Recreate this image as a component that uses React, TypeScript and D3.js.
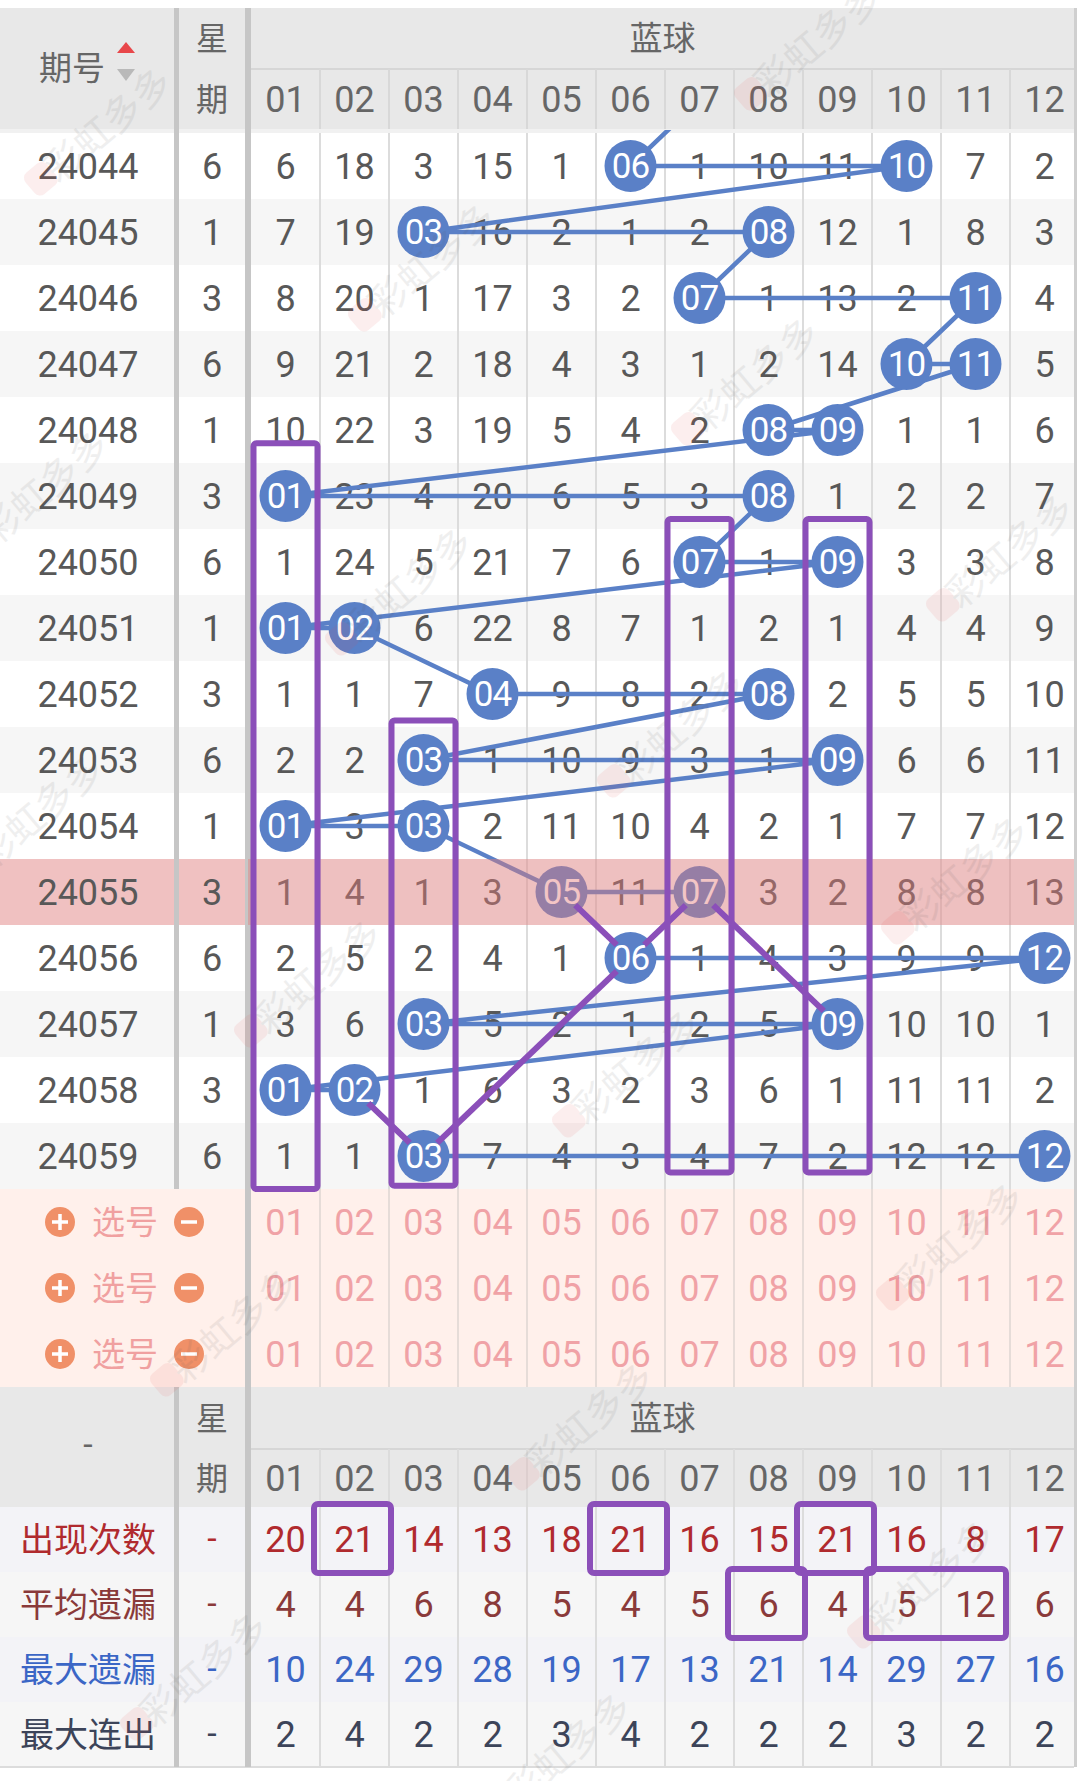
import React from 'react';
import * as d3 from 'd3';

// ---------- data ----------
const periods = ['24044','24045','24046','24047','24048','24049','24050','24051','24052','24053','24054','24055','24056','24057','24058','24059'];
const weekdays = [6,1,3,6,1,3,6,1,3,6,1,3,6,1,3,6];
const ballNumbers = ['01','02','03','04','05','06','07','08','09','10','11','12'];
const draws: [number, number][] = [
  [6,10],[3,8],[7,11],[10,11],[8,9],[1,8],[7,9],[1,2],[4,8],[3,9],[1,3],[5,7],[6,12],[3,9],[1,2],[3,12]
];
const omissions: number[][] = [
  [6,18,3,15,1,0,1,10,11,0,7,2],
  [7,19,0,16,2,1,2,0,12,1,8,3],
  [8,20,1,17,3,2,0,1,13,2,0,4],
  [9,21,2,18,4,3,1,2,14,0,0,5],
  [10,22,3,19,5,4,2,0,0,1,1,6],
  [0,23,4,20,6,5,3,0,1,2,2,7],
  [1,24,5,21,7,6,0,1,0,3,3,8],
  [0,0,6,22,8,7,1,2,1,4,4,9],
  [1,1,7,0,9,8,2,0,2,5,5,10],
  [2,2,0,1,10,9,3,1,0,6,6,11],
  [0,3,0,2,11,10,4,2,1,7,7,12],
  [1,4,1,3,0,11,0,3,2,8,8,13],
  [2,5,2,4,1,0,1,4,3,9,9,0],
  [3,6,0,5,2,1,2,5,0,10,10,1],
  [0,0,1,6,3,2,3,6,1,11,11,2],
  [1,1,0,7,4,3,4,7,2,12,12,0],
];
const previousLastBall = 7; // last ball of period 24043 (line entering from above)
const highlightPeriod = '24055';
const pickRows = [0, 1, 2];
const pickLabel = '选号';
const statLabels = ['出现次数','平均遗漏','最大遗漏','最大连出'];
const appearCount = [20,21,14,13,18,21,16,15,21,16,8,17];
const avgMiss = [4,4,6,8,5,4,5,6,4,5,12,6];
const maxMiss = [10,24,29,28,19,17,13,21,14,29,27,16];
const maxStreak = [2,4,2,2,3,4,2,2,2,3,2,2];
const statValues = [appearCount, avgMiss, maxMiss, maxStreak];
const statColors = ['#b02a2e','#8a3a3a','#3b66c6','#3c4459'];

// purple annotations (data units: ball number, period, row fraction)
const columnBoxes = [
  { ball: 1, from: '24049', to: '24059', topExt: 0.3, botExt: 0.0 },
  { ball: 3, from: '24053', to: '24059', topExt: 0.1, botExt: -0.05 },
  { ball: 7, from: '24050', to: '24059', topExt: 0.15, botExt: -0.25 },
  { ball: 9, from: '24050', to: '24059', topExt: 0.15, botExt: -0.25 },
];
const purpleLinks: [string, number, string, number][] = [
  ['24055', 5, '24056', 6],
  ['24055', 7, '24056', 6],
  ['24056', 6, '24059', 3],
  ['24055', 7, '24057', 9],
  ['24058', 2, '24059', 3],
];
const statBoxes = [
  { stat: 0, from: 2, to: 2 },
  { stat: 0, from: 6, to: 6 },
  { stat: 0, from: 9, to: 9 },
  { stat: 1, from: 8, to: 8 },
  { stat: 1, from: 10, to: 11 },
];
const watermarkSpots = [
  [108,125],[818,40],[432,261],[755,375],[45,488],[409,585],[1010,551],[681,727],
  [40,812],[965,874],[318,977],[636,1067],[960,1240],[234,1326],[590,1420],[931,1578],[204,1670],[568,1750]
];

// ---------- layout ----------
const W = 1080, H = 1781;
const headerTop = 8, headerMid = 69, headerBottom = 129;
const rowsTop = 133, rowH = 66;
const dataBottom = rowsTop + rowH * periods.length;
const pickBottom = dataBottom + rowH * pickRows.length;
const bHeaderTop = pickBottom, bHeaderMid = bHeaderTop + 62, bHeaderBottom = bHeaderTop + 120;
const statH = 65;
const statBottom = bHeaderBottom + statH * statLabels.length;
const sep1 = 176.5, sep2 = 248, numLeft = 251, colW = 69, tableRight = 1074;
const col1Center = 88, col2Center = 212;
const linkTrim = 19;

const FONT_NUM = 'Roboto, "Noto Sans", sans-serif';
const FONT_CJK = '"Noto Sans CJK SC", "Noto Sans", sans-serif';
const TXT = '#585858';
const HEAD_TXT = '#666666';
const BLUE = '#5a80c7';
const PURPLE = '#8b4fb9';

export default function App() {
  const x = d3.scaleBand<string>().domain(ballNumbers).range([numLeft, numLeft + colW * 12]);
  const y = d3.scaleBand<string>().domain(periods).range([rowsTop, dataBottom]);
  const yPick = d3.scaleBand<number>().domain(pickRows).range([dataBottom, pickBottom]);
  const yStat = d3.scaleBand<string>().domain(statLabels).range([bHeaderBottom, statBottom]);

  const cx = (n: number) => (x(ballNumbers[n - 1]) as number) + x.bandwidth() / 2;
  const cy = (p: string) => (y(p) as number) + y.bandwidth() / 2;

  // blue path
  const pts: [number, number][] = [[cx(previousLastBall), cy(periods[0]) - rowH]];
  periods.forEach((p, i) => {
    const [a, b] = draws[i];
    pts.push([cx(a), cy(p)]);
    pts.push([cx(b), cy(p)]);
  });
  const line = d3.line<[number, number]>();

  const colLines = ballNumbers.slice(1).map((b) => x(b) as number);

  const mid = 0.35;
  return (
    <div style={{ position: 'absolute', left: 0, top: 0, width: W, height: H, background: '#fff' }}>
      <svg width={W} height={H} viewBox={`0 0 ${W} ${H}`} style={{ display: 'block' }}>
        <defs>
          <clipPath id="dataClip">
            <rect x={0} y={rowsTop - 3} width={tableRight} height={dataBottom - rowsTop + 3} />
          </clipPath>
          <clipPath id="tableClip">
            <rect x={0} y={0} width={tableRight} height={H} />
          </clipPath>
        </defs>
        <rect x={0} y={0} width={W} height={H} fill="#ffffff" />

        <g clipPath="url(#tableClip)">
          {/* top header */}
          <rect x={0} y={headerTop} width={tableRight} height={headerBottom - headerTop} fill="#e8e8e8" />
          <rect x={0} y={headerBottom} width={tableRight} height={rowsTop - headerBottom} fill="#f1f1f1" />
          <line x1={numLeft} x2={tableRight} y1={headerMid} y2={headerMid} stroke="#d6d6d6" strokeWidth={2} />

          {/* data rows bg */}
          {periods.map((p, i) => (
            <rect key={p} x={0} y={y(p)} width={tableRight} height={y.bandwidth()}
              fill={i % 2 === 0 ? '#ffffff' : '#f6f6f6'} />
          ))}
          {/* highlighted period: label area tint */}
          <rect x={0} y={y(highlightPeriod)} width={numLeft} height={y.bandwidth()} fill="#f0c1c1" />

          {/* pick rows bg */}
          <rect x={0} y={dataBottom} width={tableRight} height={pickBottom - dataBottom} fill="#fff0eb" />

          {/* bottom header */}
          <rect x={0} y={bHeaderTop} width={tableRight} height={bHeaderBottom - bHeaderTop} fill="#e8e8e8" />
          <line x1={numLeft} x2={tableRight} y1={bHeaderMid} y2={bHeaderMid} stroke="#d6d6d6" strokeWidth={2} />

          {/* stat rows bg */}
          {statLabels.map((s, i) => (
            <rect key={s} x={0} y={yStat(s)} width={tableRight} height={yStat.bandwidth()}
              fill={i % 2 === 0 ? '#f3f3f7' : '#f6f6f6'} />
          ))}
          <line x1={0} x2={tableRight} y1={statBottom} y2={statBottom} stroke="#dcdcdc" strokeWidth={2} />

          {/* thin column lines */}
          {colLines.map((cxl, k) => (
            <g key={k}>
              <line x1={cxl} x2={cxl} y1={headerMid} y2={headerBottom} stroke="#d8d8d8" strokeWidth={2} />
              <line x1={cxl} x2={cxl} y1={rowsTop} y2={dataBottom} stroke="#dcdcdc" strokeWidth={2} />
              <line x1={cxl} x2={cxl} y1={dataBottom} y2={pickBottom} stroke="#e6dcd8" strokeWidth={2} />
              <line x1={cxl} x2={cxl} y1={bHeaderMid} y2={statBottom} stroke="#dcdcdc" strokeWidth={2} />
            </g>
          ))}

          {/* thick separators */}
          <line x1={sep1} x2={sep1} y1={headerTop} y2={dataBottom} stroke="#c6c6c6" strokeWidth={5} />
          <line x1={sep1} x2={sep1} y1={bHeaderTop} y2={statBottom} stroke="#c6c6c6" strokeWidth={5} />
          <line x1={sep2} x2={sep2} y1={headerTop} y2={statBottom} stroke="#c6c6c6" strokeWidth={6} />

          {/* header texts */}
          <text x={col1Center - 16} y={(headerTop + headerBottom) / 2} dy="0.36em" textAnchor="middle"
            fontFamily={FONT_CJK} fontSize={33} fill={HEAD_TXT}>期号</text>
          <path d={`M${col1Center + 29},${headerTop + 45} l9,-11 l9,11 z`} fill="#e8474a" />
          <path d={`M${col1Center + 29},${headerTop + 61} l9,12 l9,-12 z`} fill="#b9b9b9" />
          <text x={col2Center} y={(headerTop + headerMid) / 2} dy="0.36em" textAnchor="middle"
            fontFamily={FONT_CJK} fontSize={32} fill={HEAD_TXT}>星</text>
          <text x={col2Center} y={(headerMid + headerBottom) / 2} dy="0.36em" textAnchor="middle"
            fontFamily={FONT_CJK} fontSize={32} fill={HEAD_TXT}>期</text>
          <text x={(numLeft + tableRight) / 2} y={(headerTop + headerMid) / 2} dy="0.36em" textAnchor="middle"
            fontFamily={FONT_CJK} fontSize={33} fill={HEAD_TXT}>蓝球</text>
          {ballNumbers.map((b) => (
            <text key={b} x={(x(b) as number) + x.bandwidth() / 2} y={(headerMid + headerBottom) / 2} dy={`${mid}em`}
              textAnchor="middle" fontFamily={FONT_NUM} fontSize={36} fill={HEAD_TXT}>{b}</text>
          ))}

          {/* data texts */}
          {periods.map((p, i) => (
            <g key={p}>
              <text x={col1Center} y={cy(p)} dy={`${mid}em`} textAnchor="middle" fontFamily={FONT_NUM}
                fontSize={36} fill={TXT}>{p}</text>
              <text x={col2Center} y={cy(p)} dy={`${mid}em`} textAnchor="middle" fontFamily={FONT_NUM}
                fontSize={36} fill={TXT}>{weekdays[i]}</text>
              {omissions[i].map((v, j) => (v > 0 ? (
                <text key={j} x={cx(j + 1)} y={cy(p)} dy={`${mid}em`} textAnchor="middle" fontFamily={FONT_NUM}
                  fontSize={36} fill={TXT}>{v}</text>
              ) : null))}
            </g>
          ))}

          {/* blue trend line + balls */}
          <g clipPath="url(#dataClip)">
            <path d={line(pts) as string} fill="none" stroke={BLUE} strokeWidth={4.5} strokeLinejoin="round" />
          </g>
          {periods.map((p, i) => draws[i].map((b) => (
            <g key={p + b}>
              <circle cx={cx(b)} cy={cy(p)} r={26} fill={BLUE} />
              <text x={cx(b)} y={cy(p)} dy={`${mid}em`} textAnchor="middle" fontFamily={FONT_NUM}
                fontSize={35} fill="#ffffff" letterSpacing={-1}>{ballNumbers[b - 1]}</text>
            </g>
          )))}

          {/* highlight overlay on number area */}
          <rect x={numLeft - 3} y={y(highlightPeriod)} width={tableRight - numLeft + 3} height={y.bandwidth()}
            fill="rgb(228,122,122)" fillOpacity={0.44} />

          {/* pick rows */}
          {pickRows.map((r) => {
            const yy = (yPick(r) as number) + yPick.bandwidth() / 2;
            return (
              <g key={r}>
                <circle cx={60} cy={yy} r={15} fill="#f09068" />
                <path d={`M${52},${yy} h16 M60,${yy - 8} v16`} stroke="#fff" strokeWidth={3.5} />
                <text x={125} y={yy} dy="0.36em" textAnchor="middle" fontFamily={FONT_CJK} fontSize={33}
                  fill="#f0a0a0">{pickLabel}</text>
                <circle cx={189} cy={yy} r={15} fill="#f09068" />
                <path d={`M${181},${yy} h16`} stroke="#fff" strokeWidth={3.5} />
                {ballNumbers.map((b) => (
                  <text key={b} x={(x(b) as number) + x.bandwidth() / 2} y={yy} dy={`${mid}em`} textAnchor="middle"
                    fontFamily={FONT_NUM} fontSize={36} fill="#f0a2a6">{b}</text>
                ))}
              </g>
            );
          })}

          {/* bottom header texts */}
          <text x={col1Center} y={bHeaderMid} dy="0.2em" textAnchor="middle" fontFamily={FONT_NUM}
            fontSize={34} fill={HEAD_TXT}>-</text>
          <text x={col2Center} y={(bHeaderTop + bHeaderMid) / 2} dy="0.36em" textAnchor="middle"
            fontFamily={FONT_CJK} fontSize={32} fill={HEAD_TXT}>星</text>
          <text x={col2Center} y={(bHeaderMid + bHeaderBottom) / 2} dy="0.36em" textAnchor="middle"
            fontFamily={FONT_CJK} fontSize={32} fill={HEAD_TXT}>期</text>
          <text x={(numLeft + tableRight) / 2} y={(bHeaderTop + bHeaderMid) / 2} dy="0.36em" textAnchor="middle"
            fontFamily={FONT_CJK} fontSize={33} fill={HEAD_TXT}>蓝球</text>
          {ballNumbers.map((b) => (
            <text key={b} x={(x(b) as number) + x.bandwidth() / 2} y={(bHeaderMid + bHeaderBottom) / 2} dy={`${mid}em`}
              textAnchor="middle" fontFamily={FONT_NUM} fontSize={36} fill={HEAD_TXT}>{b}</text>
          ))}

          {/* stats */}
          {statLabels.map((s, i) => {
            const yy = (yStat(s) as number) + yStat.bandwidth() / 2;
            return (
              <g key={s}>
                <text x={col1Center} y={yy} dy="0.36em" textAnchor="middle" fontFamily={FONT_CJK} fontSize={34}
                  fill={statColors[i]}>{s}</text>
                <text x={col2Center} y={yy} dy="0.3em" textAnchor="middle" fontFamily={FONT_NUM} fontSize={34}
                  fill={statColors[i]}>-</text>
                {statValues[i].map((v, j) => (
                  <text key={j} x={cx(j + 1)} y={yy} dy={`${mid}em`} textAnchor="middle" fontFamily={FONT_NUM}
                    fontSize={36} fill={statColors[i]}>{v}</text>
                ))}
              </g>
            );
          })}

          {/* watermarks */}
          {watermarkSpots.map(([wx, wy], k) => (
            <g key={k} transform={`translate(${wx},${wy}) rotate(-40)`} opacity={0.09}>
              <rect x={-100} y={-16} width={28} height={28} rx={7} fill="#e84a4a" />
              <text x={0} y={0} dy="0.35em" textAnchor="middle" fontFamily={FONT_CJK} fontSize={38}
                fill="#555">彩虹多多</text>
            </g>
          ))}

          {/* purple annotations */}
          {columnBoxes.map((bx, k) => {
            const top = (y(bx.from) as number) - bx.topExt * rowH;
            const bottom = (y(bx.to) as number) + rowH + bx.botExt * rowH;
            return (
              <rect key={k} x={cx(bx.ball) - 32} y={top} width={64} height={bottom - top} rx={3}
                fill="none" stroke={PURPLE} strokeWidth={6} />
            );
          })}
          {purpleLinks.map(([p1, b1, p2, b2], k) => {
            const x1 = cx(b1), y1 = cy(p1), x2 = cx(b2), y2 = cy(p2);
            const len = Math.hypot(x2 - x1, y2 - y1);
            const ux = (x2 - x1) / len, uy = (y2 - y1) / len;
            return (
              <line key={k} x1={x1 + ux * linkTrim} y1={y1 + uy * linkTrim}
                x2={x2 - ux * linkTrim} y2={y2 - uy * linkTrim} stroke={PURPLE} strokeWidth={6} />
            );
          })}
          {statBoxes.map((sb, k) => {
            const x0 = (x(ballNumbers[sb.from - 1]) as number) - 6;
            const x1 = (x(ballNumbers[sb.to - 1]) as number) + x.bandwidth() + (sb.from === sb.to ? 2 : -4);
            const y0 = (yStat(statLabels[sb.stat]) as number) - 3;
            return (
              <rect key={k} x={x0} y={y0} width={x1 - x0} height={yStat.bandwidth() + 4} rx={4}
                fill="none" stroke={PURPLE} strokeWidth={6} />
            );
          })}
        </g>

        {/* right border */}
        <line x1={tableRight + 1.5} x2={tableRight + 1.5} y1={headerTop} y2={statBottom} stroke="#cfcfcf" strokeWidth={3} />
      </svg>
    </div>
  );
}
